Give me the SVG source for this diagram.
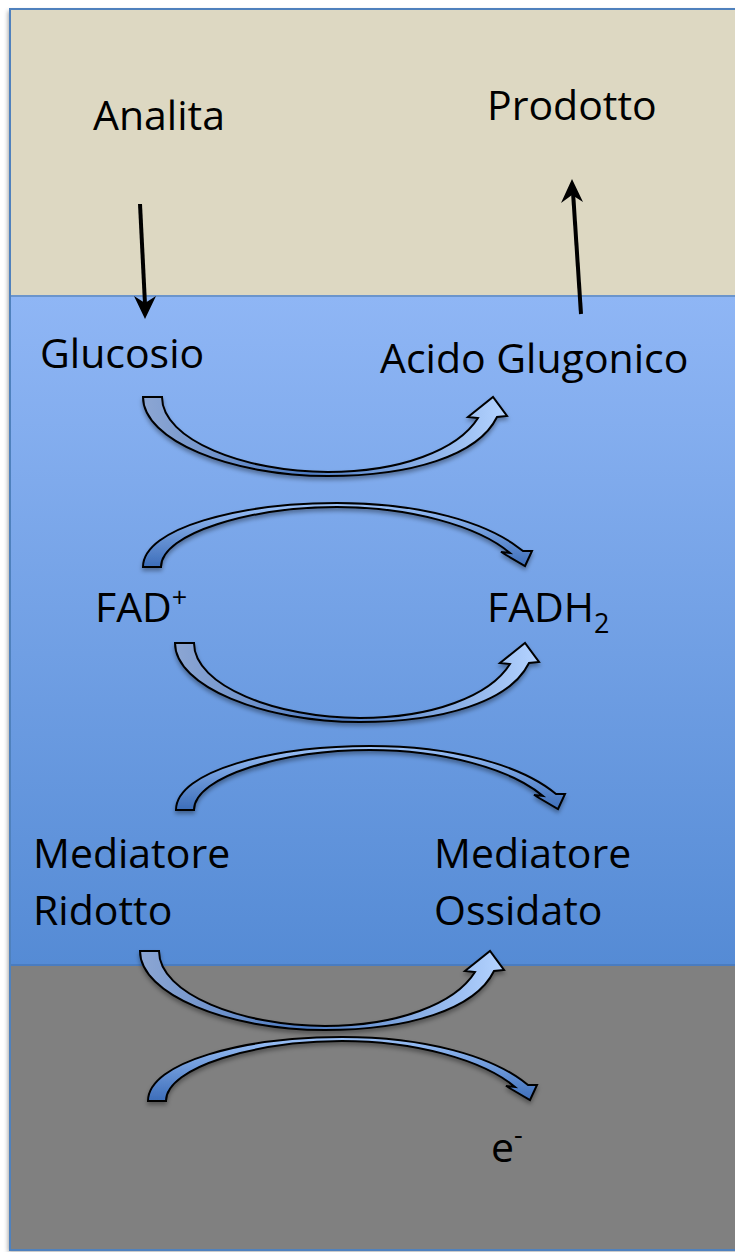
<svg xmlns="http://www.w3.org/2000/svg" width="735" height="1252" viewBox="0 0 735 1252">
<style>
.t{font-family:"Open Sans","Liberation Sans",sans-serif;font-size:41px;fill:#000}
.arc{stroke:#000;stroke-width:2;stroke-linejoin:miter;filter:url(#sh)}
.dn{fill:url(#gDown)}
.up{fill:url(#gUp)}
</style>
<defs>
<linearGradient id="gBlue" x1="0" y1="0" x2="0" y2="1">
<stop offset="0" stop-color="#8FB6F5"/>
<stop offset="1" stop-color="#558BD5"/>
</linearGradient>
<linearGradient id="gDown" x1="0" y1="0" x2="1" y2="0">
<stop offset="0" stop-color="#8CA6D3"/>
<stop offset="0.45" stop-color="#4F7DC4"/>
<stop offset="1" stop-color="#B4D3FF"/>
</linearGradient>
<linearGradient id="gUp" x1="0" y1="1" x2="0" y2="0">
<stop offset="0" stop-color="#3C6DB9"/>
<stop offset="1" stop-color="#9CC2F8"/>
</linearGradient>
<filter id="sh" x="-10%" y="-20%" width="120%" height="150%">
<feDropShadow dx="0" dy="3" stdDeviation="2" flood-color="#000" flood-opacity="0.35"/>
</filter>
<filter id="psh" x="-5%" y="-5%" width="110%" height="110%">
<feDropShadow dx="-2" dy="2" stdDeviation="2" flood-color="#000" flood-opacity="0.35"/>
</filter>
<path id="arcDown" d="M162,397 C162,440 245,472 328,472 C400,472 458,450 478,418 L468,417 L493,397 L507,416 L497,417 C478,456 410,476 328,476 C230,476 143,440 143,397 Z"/>
<path id="arcUp" d="M143,567 C143,528 240,503 337,503 C420,503 488,522 523,551 L532,551 L525,566 L501,552 L510,553 C478,526 410,507 337,507 C252,507 161,533 161,567 Z"/>
</defs>

<g id="panels">
<rect x="10" y="9" width="740" height="1241" fill="#808080" filter="url(#psh)"/>
<rect id="solution" x="10" y="9" width="740" height="287" fill="#DDD8C2"/>
<rect id="layer" x="10" y="296" width="740" height="669" fill="url(#gBlue)"/>
<rect id="electrode" x="10" y="965" width="740" height="285" fill="#808080"/>
<line x1="10" y1="296" x2="750" y2="296" stroke="#6B95CC" stroke-width="2"/>
<line x1="10" y1="965" x2="750" y2="965" stroke="#4A7CC0" stroke-width="2"/>
<rect x="10" y="9" width="740" height="1241" fill="none" stroke="#4F81BD" stroke-width="2"/>
</g>

<g id="connectors">
<g id="analita-in">
<line x1="140" y1="204" x2="145" y2="304" stroke="#000" stroke-width="4"/>
<polygon points="145,319 134,296 145,303 156,296" fill="#000"/>
</g>
<g id="prodotto-out">
<line x1="581" y1="314" x2="573" y2="192" stroke="#000" stroke-width="4"/>
<polygon points="572,179 583,202 572,195 561,203" fill="#000"/>
</g>
<use id="arc-glucosio" href="#arcDown" class="arc dn"/>
<use id="arc-fad-up" href="#arcUp" class="arc up"/>
<use id="arc-fad-down" href="#arcDown" class="arc dn" transform="translate(32,246)"/>
<use id="arc-med-up" href="#arcUp" class="arc up" transform="translate(33,243)"/>
<use id="arc-med-down" href="#arcDown" class="arc dn" transform="translate(-3,554)"/>
<use id="arc-e-up" href="#arcUp" class="arc up" transform="translate(5,534)"/>
</g>

<g id="n-analita"><text class="t" x="93" y="130">Analita</text></g>
<g id="n-prodotto"><text class="t" x="487" y="120">Prodotto</text></g>
<g id="n-glucosio"><text class="t" x="40" y="368">Glucosio</text></g>
<g id="n-acido"><text class="t" x="380" y="373">Acido Glugonico</text></g>
<g id="n-fad"><text class="t" x="95" y="622">FAD<tspan font-size="27" dy="-15">+</tspan></text></g>
<g id="n-fadh2"><text class="t" x="487" y="622">FADH<tspan font-size="27" dy="11">2</tspan></text></g>
<g id="n-med-rid"><text class="t" x="33" y="868">Mediatore</text><text class="t" x="33" y="925">Ridotto</text></g>
<g id="n-med-oss"><text class="t" x="434" y="868">Mediatore</text><text class="t" x="434" y="925">Ossidato</text></g>
<g id="n-e"><text class="t" x="491" y="1162">e<tspan font-size="27" dy="-18">-</tspan></text></g>
</svg>
